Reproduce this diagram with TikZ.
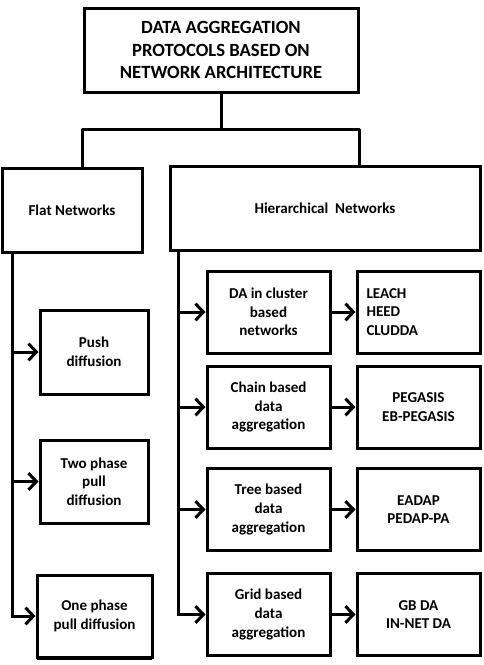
\documentclass[tikz,border=0pt]{standalone}
\usepackage{fontspec}
\setmainfont{Carlito}
\usetikzlibrary{arrows.meta}

\tikzset{
	box/.style={draw, line width=2.25pt, align=center, inner sep=2pt, font=\bfseries\fontsize{11.3}{14}\selectfont},
	midbox/.style={box, minimum width=92.25pt, minimum height=61.5pt},
	link/.style={line width=2.25pt},
	arr/.style={link, -{Straight Barb[length=6pt, width=12.5pt, line width=2.25pt]}}
}

\begin{document}
\begin{tikzpicture}[x=0.75pt, y=-0.75pt]
	\useasboundingbox (0,0) rectangle (483,665);
	% title and the two families
	\node[box, minimum width=205.5pt, minimum height=63pt, font=\bfseries\fontsize{14}{16.8}\selectfont] (top) at (221,50) {DATA AGGREGATION\\PROTOCOLS BASED ON\\NETWORK ARCHITECTURE};
	\node[box, minimum width=105pt, minimum height=63pt] (flat) at (72,210) {Flat Networks};
	\node[box, minimum width=232.5pt, minimum height=63pt] (hier) at (325,208) {Hierarchical\ \ Networks};
	\draw[link] (top.south) -- ++(0,36) coordinate (fork);
	\draw[link, line join=round] (top.west |- flat.north) -- (top.west |- fork) -- (top.east |- fork) -- (top.east |- hier.north);
	% flat networks
	\node[box, minimum width=81pt, minimum height=63pt] (push) at (94,352) {Push\\diffusion};
	\node[box, minimum width=81pt, minimum height=62.25pt] (twophase) at (94,481.5) {Two phase\\pull\\diffusion};
	\node[box, minimum width=86.25pt, minimum height=61.5pt] (onephase) at (94.5,616) {One phase\\pull diffusion};
	\draw[line width=1.1pt] (37,659.5) -- (152,659.5);
	\coordinate (ftrunk) at (12,252);
	\draw[arr] (ftrunk) |- (onephase.west);
	\draw[arr] (ftrunk |- push.west) -- (push.west);
	\draw[arr] (ftrunk |- twophase.west) -- (twophase.west);
	% hierarchical networks
	\node[midbox] (cluster) at (268.5,312) {DA in cluster\\based\\networks};
	\node[midbox] (chain) at (268.5,407) {Chain based\\data\\aggregation};
	\node[midbox] (tree) at (268.5,509.5) {Tree based\\data\\aggregation};
	\node[midbox] (grid) at (268.5,614.5) {Grid based\\data\\aggregation};
	\node[midbox, align=left, text width=78pt] (leach) at (418.5,312) {LEACH\\HEED\\CLUDDA};
	\node[midbox] (pegasis) at (418.5,407) {PEGASIS\\EB-PEGASIS};
	\node[midbox] (eadap) at (418.5,509.5) {EADAP\\PEDAP-PA};
	\node[midbox] (gbda) at (418.5,614.5) {GB DA\\IN-NET DA};
	\coordinate (htrunk) at (178,250);
	\draw[arr] (htrunk) |- (grid.west);
	\foreach \m in {cluster, chain, tree}
		\draw[arr] (htrunk |- \m.west) -- (\m.west);
	\draw[arr] (cluster) -- (leach);
	\draw[arr] (chain) -- (pegasis);
	\draw[arr] (tree) -- (eadap);
	\draw[arr] (grid) -- (gbda);
\end{tikzpicture}
\end{document}
